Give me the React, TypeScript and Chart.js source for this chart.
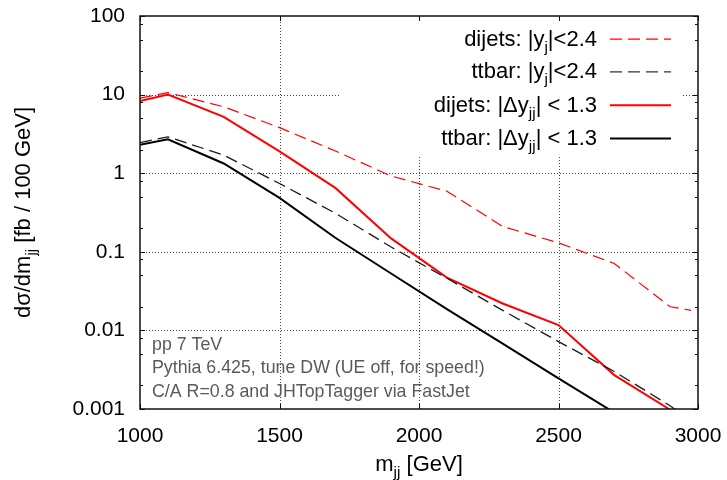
import React, { useEffect, useRef } from 'react';
import { Chart, registerables } from 'chart.js';

Chart.register(...registerables);

// ---- data ----
const massPoints = [1000, 1100, 1300, 1500, 1700, 1900, 2100, 2300, 2500, 2700, 2900, 2975];
const dijetsWide = [9.0, 10.6, 7.0, 3.8, 1.92, 0.92, 0.59, 0.21, 0.13, 0.071, 0.02, 0.018];
const ttbarWide = [2.45, 2.9, 1.7, 0.74, 0.31, 0.115, 0.046, 0.018, 0.0072, 0.003, 0.0011, 0.0007];
const dijetsCentral = [8.3, 10.0, 5.2, 1.9, 0.65, 0.148, 0.047, 0.022, 0.0117, 0.0027, 0.00098, 0.0005];
const ttbarCentral = [2.3, 2.7, 1.33, 0.485, 0.151, 0.053, 0.0186, 0.0068, 0.00245, 0.0009, 0.0003, 0.00015];

const xTicks = [1000, 1500, 2000, 2500, 3000];
const yTicks = [0.001, 0.01, 0.1, 1, 10, 100];
const yMinorFactors = [2, 5, 8];

const annotationLines = [
  'pp 7 TeV',
  'Pythia 6.425, tune DW (UE off, for speed!)',
  'C/A R=0.8 and JHTopTagger via FastJet',
];

type Seg = { t: string; sub?: boolean };
const legendEntries: { segs: Seg[]; color: string; dash: number[]; width: number }[] = [
  { segs: [{ t: 'dijets: |y' }, { t: 'j', sub: true }, { t: '|<2.4' }], color: '#ff0000', dash: [12, 6], width: 1.2 },
  { segs: [{ t: 'ttbar: |y' }, { t: 'j', sub: true }, { t: '|<2.4' }], color: '#333333', dash: [12, 6], width: 1.3 },
  { segs: [{ t: 'dijets: |\u0394y' }, { t: 'jj', sub: true }, { t: '| < 1.3' }], color: '#ff0000', dash: [], width: 2 },
  { segs: [{ t: 'ttbar: |\u0394y' }, { t: 'jj', sub: true }, { t: '| < 1.3' }], color: '#000000', dash: [], width: 2 },
];

const yTitle: Seg[] = [{ t: 'd\u03c3/dm' }, { t: 'jj', sub: true }, { t: ' [fb / 100 GeV]' }];
const xTitle: Seg[] = [{ t: 'm' }, { t: 'jj', sub: true }, { t: ' [GeV]' }];

const FONT = '"Liberation Sans", Arial, Helvetica, sans-serif';

function setFont(ctx: CanvasRenderingContext2D, size: number) {
  ctx.font = `${size}px ${FONT}`;
}

function richWidth(ctx: CanvasRenderingContext2D, segs: Seg[], size: number) {
  let w = 0;
  for (const s of segs) {
    setFont(ctx, s.sub ? size * 0.7 : size);
    w += ctx.measureText(s.t).width;
  }
  return w;
}

function drawRich(
  ctx: CanvasRenderingContext2D,
  segs: Seg[],
  x: number,
  y: number,
  size: number,
  align: 'left' | 'right' | 'center',
  color: string
) {
  const w = richWidth(ctx, segs, size);
  let cx = align === 'left' ? x : align === 'right' ? x - w : x - w / 2;
  ctx.fillStyle = color;
  ctx.textAlign = 'left';
  ctx.textBaseline = 'alphabetic';
  for (const s of segs) {
    const sz = s.sub ? size * 0.7 : size;
    setFont(ctx, sz);
    ctx.fillText(s.t, cx, s.sub ? y + size * 0.28 : y);
    cx += ctx.measureText(s.t).width;
  }
}

const KEY = { left: 340, right: 683, bottom: 157 };

const gnuplotPlugin = {
  id: 'gnuplotDecor',
  beforeDatasetsDraw(chart: any) {
    const { ctx, chartArea: a, scales } = chart;
    const xs = scales.x;
    const ys = scales.y;
    ctx.save();
    // dotted grid
    ctx.strokeStyle = '#444';
    ctx.lineWidth = 1;
    ctx.setLineDash([1, 2]);
    ctx.beginPath();
    for (const v of xTicks) {
      if (v === xTicks[0] || v === xTicks[xTicks.length - 1]) continue;
      const px = Math.round(xs.getPixelForValue(v)) + 0.5;
      ctx.moveTo(px, a.top);
      ctx.lineTo(px, a.bottom);
    }
    for (const v of yTicks) {
      if (v === yTicks[0] || v === yTicks[yTicks.length - 1]) continue;
      const py = Math.round(ys.getPixelForValue(v)) + 0.5;
      ctx.moveTo(a.left, py);
      ctx.lineTo(a.right, py);
    }
    ctx.stroke();
    ctx.setLineDash([]);
    // opaque key box
    ctx.fillStyle = '#ffffff';
    ctx.fillRect(KEY.left, a.top + 1, KEY.right - KEY.left, KEY.bottom - a.top - 1);
    ctx.restore();
  },
  afterDatasetsDraw(chart: any) {
    const { ctx, chartArea: a, scales } = chart;
    const xs = scales.x;
    const ys = scales.y;
    ctx.save();
    // border
    ctx.strokeStyle = '#111';
    ctx.lineWidth = 1.5;
    ctx.setLineDash([]);
    ctx.strokeRect(a.left, a.top, a.right - a.left, a.bottom - a.top);
    // tick marks
    ctx.lineWidth = 1;
    ctx.beginPath();
    for (const v of xTicks) {
      const px = Math.round(xs.getPixelForValue(v)) + 0.5;
      ctx.moveTo(px, a.bottom);
      ctx.lineTo(px, a.bottom - 5);
      ctx.moveTo(px, a.top);
      ctx.lineTo(px, a.top + 5);
    }
    for (const v of yTicks) {
      const py = Math.round(ys.getPixelForValue(v)) + 0.5;
      ctx.moveTo(a.left, py);
      ctx.lineTo(a.left + 5, py);
      ctx.moveTo(a.right, py);
      ctx.lineTo(a.right - 5, py);
      if (v < yTicks[yTicks.length - 1]) {
        for (const f of yMinorFactors) {
          const pm = Math.round(ys.getPixelForValue(v * f)) + 0.5;
          ctx.moveTo(a.left, pm);
          ctx.lineTo(a.left + 3, pm);
          ctx.moveTo(a.right, pm);
          ctx.lineTo(a.right - 3, pm);
        }
      }
    }
    ctx.stroke();

    // legend
    const baselines = [45.7, 78.3, 111.7, 145];
    legendEntries.forEach((e, i) => {
      drawRich(ctx, e.segs, 597, baselines[i], 22, 'right', '#000');
      ctx.strokeStyle = e.color;
      ctx.lineWidth = e.width;
      ctx.setLineDash(e.dash);
      ctx.beginPath();
      const sy = baselines[i] - 6.5;
      ctx.moveTo(610, sy);
      ctx.lineTo(671, sy);
      ctx.stroke();
    });
    ctx.setLineDash([]);

    // annotation
    const annBase = [350, 373.3, 396.7];
    annotationLines.forEach((t, i) => {
      drawRich(ctx, [{ t }], 152, annBase[i], 17.8, 'left', '#5a5a5a');
    });

    // axis titles
    drawRich(ctx, xTitle, (a.left + a.right) / 2, 471, 22, 'center', '#000');
    ctx.save();
    ctx.translate(29.5, (a.top + a.bottom) / 2);
    ctx.rotate(-Math.PI / 2);
    drawRich(ctx, yTitle, 0, 0, 22, 'center', '#000');
    ctx.restore();

    ctx.restore();
  },
};

function makeSeries(values: number[]) {
  return massPoints.map((m, i) => ({ x: m, y: values[i] }));
}

function zeroPadding(s: any) {
  s.paddingTop = 0;
  s.paddingBottom = 0;
  s.paddingLeft = 0;
  s.paddingRight = 0;
}

export default function App() {
  const ref = useRef<HTMLCanvasElement | null>(null);
  useEffect(() => {
    if (!ref.current) return;
    const chart = new Chart(ref.current, {
      type: 'line',
      data: {
        datasets: [
          {
            label: 'dijets wide',
            data: makeSeries(dijetsWide),
            borderColor: '#ff0000',
            borderWidth: 1.2,
            borderDash: [12, 6],
            pointRadius: 0,
            tension: 0,
            fill: false,
            clip: 0,
          },
          {
            label: 'ttbar wide',
            data: makeSeries(ttbarWide),
            borderColor: '#1a1a1a',
            borderWidth: 1.3,
            borderDash: [12, 6],
            pointRadius: 0,
            tension: 0,
            fill: false,
            clip: 0,
          },
          {
            label: 'dijets central',
            data: makeSeries(dijetsCentral),
            borderColor: '#ff0000',
            borderWidth: 2,
            pointRadius: 0,
            tension: 0,
            fill: false,
            clip: 0,
          },
          {
            label: 'ttbar central',
            data: makeSeries(ttbarCentral),
            borderColor: '#000000',
            borderWidth: 2,
            pointRadius: 0,
            tension: 0,
            fill: false,
            clip: 0,
          },
        ],
      },
      options: {
        animation: false,
        responsive: false,
        maintainAspectRatio: false,
        devicePixelRatio: 1,
        layout: { padding: { left: 0, top: 16, right: 29, bottom: 0 } },
        plugins: { legend: { display: false }, tooltip: { enabled: false } },
        scales: {
          x: {
            type: 'linear',
            min: 1000,
            max: 3000,
            grid: { display: false, drawTicks: false },
            border: { display: false },
            afterBuildTicks: (s: any) => {
              s.ticks = xTicks.map((v) => ({ value: v }));
            },
            afterFit: (s: any) => {
              s.height = 71;
              zeroPadding(s);
            },
            ticks: {
              autoSkip: false,
              maxRotation: 0,
              padding: 15,
              color: '#000',
              font: { family: FONT, size: 21 },
              callback: (v: any) => String(v),
            },
          },
          y: {
            type: 'logarithmic',
            min: 0.001,
            max: 100,
            grid: { display: false, drawTicks: false },
            border: { display: false },
            afterBuildTicks: (s: any) => {
              s.ticks = yTicks.map((v) => ({ value: v }));
            },
            afterFit: (s: any) => {
              s.width = 140;
              zeroPadding(s);
            },
            ticks: {
              autoSkip: false,
              padding: 15,
              color: '#000',
              font: { family: FONT, size: 21 },
              callback: (v: any) => String(v),
            },
          },
        },
      },
      plugins: [gnuplotPlugin],
    });
    return () => chart.destroy();
  }, []);
  return (
    <div style={{ position: 'absolute', left: 0, top: 0, width: 727, height: 480, background: '#fff' }}>
      <canvas ref={ref} width={727} height={480} style={{ display: 'block' }} />
    </div>
  );
}
